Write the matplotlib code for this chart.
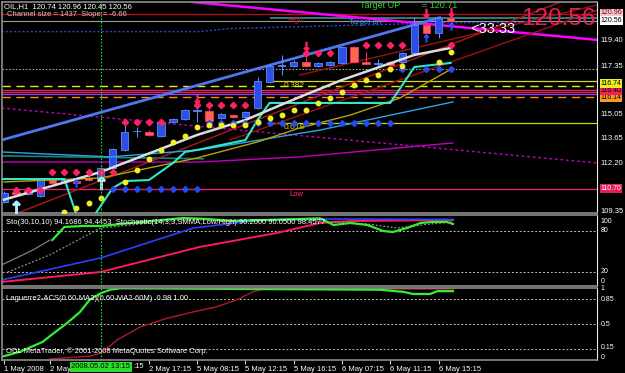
import matplotlib.pyplot as plt
import matplotlib.transforms as mtransforms

plt.rcParams['font.family'] = ['Liberation Sans', 'DejaVu Sans']

# OIL,H1 candles (bar 0 = 1 May 2008 ... bar 37 = 6 May 15:15)
opens = [109.91, 110.50, 110.38, 110.26, 111.20, 111.09, 111.14, 111.32, 111.26, 111.91,
         112.97, 114.08, 114.02, 113.79, 114.61, 114.79, 115.26, 115.26, 114.85, 115.02,
         114.90, 115.43, 116.96, 117.90, 117.90, 118.14, 117.90, 117.96, 118.08, 119.02,
         118.14, 118.02, 118.14, 118.14, 118.67, 120.31, 119.84, 120.74]
highs = [110.55, 110.60, 110.62, 111.30, 111.30, 111.25, 111.22, 111.75, 111.98, 113.10,
         114.73, 114.30, 114.12, 114.68, 114.85, 115.38, 115.79, 115.35, 115.15, 115.10,
         115.26, 117.26, 118.00, 118.55, 118.25, 118.84, 118.15, 118.20, 119.10, 119.08,
         118.72, 118.30, 118.20, 118.72, 120.78, 120.40, 120.80, 120.96]
lows = [109.85, 110.30, 110.32, 110.20, 111.00, 111.02, 110.98, 111.15, 111.20, 111.85,
        112.90, 113.75, 113.80, 113.72, 114.55, 114.72, 114.61, 114.60, 114.80, 114.85,
        114.85, 115.35, 116.90, 117.37, 117.85, 117.85, 117.85, 117.90, 118.00, 118.05,
        118.00, 117.90, 117.90, 118.08, 118.60, 119.78, 119.55, 120.45]
closes = [110.44, 110.38, 110.55, 111.20, 111.03, 111.20, 111.03, 111.20, 111.91, 113.03,
          114.02, 114.10, 113.85, 114.61, 114.79, 115.32, 115.28, 114.67, 115.08, 114.90,
          115.20, 117.02, 117.90, 117.92, 118.14, 117.90, 118.08, 118.14, 119.02, 118.14,
          118.02, 118.10, 117.96, 118.67, 120.31, 119.84, 120.72, 120.56]

# overlay lines on the price chart (bar, price)
white_x = [0, 8, 16, 20, 24.5, 28, 34, 37]
white_y = [110.05, 111.67, 113.85, 114.73, 116.08, 117.08, 118.55, 118.96]
cyan_x = [-0.2, 5, 6, 7.5, 9, 10, 12, 14, 15, 16, 20, 21, 22, 32, 34, 37]
cyan_y = [111.26, 111.26, 109.15, 109.15, 110.73, 111.14, 111.20, 112.20, 112.85, 112.97,
          113.55, 114.73, 115.73, 115.73, 117.84, 118.08]
olive_x = [0, 8, 12, 16, 21, 24.5, 28.7, 32.8, 37.2]
olive_y = [111.09, 111.32, 111.91, 112.50, 113.44, 114.26, 115.02, 116.02, 117.78]
sky_x = [-0.2, 8.8, 16.2, 26.2, 37.2]
sky_y = [112.85, 112.56, 112.97, 114.14, 115.79]
teal_x = [-0.2, 16.5]
teal_y = [112.62, 112.45]
mag_x = [-0.2, 16.2, 24.5, 37.2]
mag_y = [112.26, 112.26, 112.56, 113.38]
mag_dot_x = [-0.2, 49.2]
mag_dot_y = [115.43, 112.20]
mag_top_x = [15.6, 49.2]
mag_top_y = [121.66, 119.43]
chan_x = [-0.2, 36.1]
chan_y = [113.55, 120.74]
red1_x = [1.1, 46.1]
red1_y = [109.26, 121.66]
red2_x = [18.7, 49.2]
red2_y = [113.55, 121.19]
red3_x = [24.5, 49.2]
red3_y = [117.37, 121.49]
bluedot_x = [-0.2, 16.2, 18.7, 37.2, 43.5]
bluedot_y = [119.92, 119.92, 120.10, 120.45, 120.45]

# marker rows
pink_bars = [1, 2, 3, 4, 5, 6, 7, 8, 9, 10, 11, 12, 13, 16, 17, 18, 19, 20,
             25, 26, 27, 30, 31, 32, 33, 37]
pink_vals = [110.62, 110.62, 110.62, 111.67, 111.67, 111.67, 111.67, 111.67, 111.67,
             114.61, 114.61, 114.61, 114.61, 115.61, 115.61, 115.61, 115.61, 115.61,
             118.67, 118.67, 118.67, 119.14, 119.14, 119.14, 119.14, 119.14]
yellow_bars = [5, 6, 7, 8, 10, 11, 12, 13, 14, 15, 16, 17, 18, 19, 20, 21, 22, 23, 24,
               25, 26, 27, 28, 29, 30, 31, 32, 33, 36, 37]
yellow_vals = [109.32, 109.56, 109.85, 110.15, 111.09, 111.79, 112.44, 112.97, 113.44,
               113.79, 114.32, 114.44, 114.44, 114.44, 114.44, 114.61, 114.85, 115.02,
               115.32, 115.32, 115.73, 116.02, 116.37, 116.79, 117.08, 117.37, 117.73,
               117.90, 118.14, 118.72]
blue_bars = [9, 10, 11, 12, 13, 14, 15, 16, 17, 18, 19, 20, 21, 22, 23, 24, 25, 26, 27,
             28, 29, 30, 31, 32, 33, 35, 36, 37]
blue_vals = [110.68] * 8 + [114.55] * 16 + [117.73] * 4

# Sto(30,10,10) / Stochastic subwindow
sto_green_x = [4, 5, 6.5, 8, 14.8, 16.8, 19, 26.2, 27.3, 28.7, 30.1, 31.4, 32.2, 33.4,
               34.5, 35.5, 36.7, 37.2]
sto_green_y = [66.8, 85.9, 87.3, 87.3, 99.0, 97.6, 94.6, 98.5, 88.8, 91.7, 88.8, 80.0,
               78.5, 84.4, 91.7, 93.2, 93.2, 90.2]
sto_gray_x = [-0.2, 2.4, 3.8]
sto_gray_y = [30.3, 52.2, 66.8]
sto_dot_x = [0.3, 3.8, 8, 14.6, 24.5, 30.1, 32.6, 35.3, 37.2]
sto_dot_y = [20.0, 45.0, 84.4, 96.1, 96.1, 90.2, 84.4, 90.2, 93.2]
sto_blue_x = [-0.2, 8, 15.7, 21.2, 26.2, 37.2]
sto_blue_y = [8.3, 40.5, 84.4, 96.1, 97.6, 97.0]
sto_red_x = [-0.2, 8, 16.2, 22.6, 26.2, 28.7, 37.2]
sto_red_y = [5.4, 20.0, 56.6, 77.1, 91.7, 94.6, 96.0]

# Laguerre subwindow
lag_green_x = [-0.2, 1.3, 3.2, 4.1, 5.2, 6.3, 7.1, 8, 8.8, 9.6, 31.1, 33.1, 33.9, 35.3,
               35.9, 37.2]
lag_green_y = [0.04, 0.11, 0.25, 0.37, 0.51, 0.67, 0.84, 0.93, 0.98, 1.0, 0.98, 0.95,
               0.92, 0.92, 0.96, 0.96]
lag_red_x = [3.8, 7.1, 8, 9.4, 11.3, 13.5, 15.7, 17.6, 19.3, 20.6, 21.5, 37.2]
lag_red_y = [0.01, 0.05, 0.09, 0.28, 0.46, 0.58, 0.67, 0.74, 0.84, 0.95, 0.99, 0.99]

# axis labels
price_ticks = [119.40, 117.85, 115.05, 113.65, 112.20, 109.35]
price_labels = ['119.40', '117.35', '115.05', '113.65', '112.20', '109.35']
time_ticks = [0, 3.8, 12, 16, 20, 24, 28, 32, 36]
time_labels = ['1 May 2008', '2 May', '2 May 17:15', '5 May 08:15', '5 May 12:15',
               '5 May 16:15', '6 May 07:15', '6 May 11:15', '6 May 15:15']

W, H = 625, 373
fig = plt.figure(figsize=(W / 100, H / 100), dpi=100, facecolor='black')


def panel(top, bottom):
    a = fig.add_axes([2 / W, 1 - bottom / H, 595 / W, (bottom - top) / H])
    a.set_facecolor('black')
    a.set_xlim(-0.17, 49.13)
    for s in ('left', 'top', 'bottom'):
        a.spines[s].set_color('#8c8c8c')
        a.spines[s].set_linewidth(1.2)
    a.spines['right'].set_color('#e8e8e8')
    a.tick_params(left=False, right=False, bottom=False, labelleft=False, labelbottom=False)
    return a


def ftext(x, y, s, **kw):
    kw.setdefault('color', 'white')
    kw.setdefault('fontsize', 5.5)
    kw.setdefault('va', 'center')
    fig.text(x / W, 1 - y / H, s, **kw)


def rlabel(a, y, s, fc=None, tc='white', size=5.5, z=20):
    tr = mtransforms.blended_transform_factory(a.transAxes, a.transData)
    box = None
    if fc is not None:
        box = dict(boxstyle='square,pad=0.12', fc=fc, ec='none')
    a.text(1.006, y, s, transform=tr, color=tc, fontsize=size, va='center', ha='left',
           bbox=box, clip_on=False, zorder=z)


# ---------------- main price window ----------------
ax = panel(2, 213)
ax.set_ylim(109.265, 121.66)

# horizontal levels
ax.axhline(120.96, color='#b0101c', lw=1.0, zorder=2)
ax.hlines(120.71, 22, 49.2, color='#3a9090', lw=1.2, zorder=2)
ax.axhline(120.56, color='#9a9a9a', lw=0.8, zorder=2)
ax.plot(bluedot_x, bluedot_y, color='#2848d8', lw=1.0, ls=(0, (1.5, 1.5)), zorder=2)
ax.axhline(117.75, color='#a0a0a0', lw=0.8, ls=(0, (1.5, 1.5)), zorder=2)
ax.hlines(117.02, 22, 49.2, color='#d8d820', lw=0.9, zorder=2)
ax.axhline(116.74, color='#e8e800', lw=1.0, ls=(0, (6, 4)), zorder=2)
ax.axhline(116.48, color='#e0205a', lw=1.0, zorder=2)
ax.axhline(116.37, color='#e0205a', lw=1.0, zorder=2)
ax.axhline(116.26, color='#8844ff', lw=0.9, zorder=2)
ax.axhline(116.08, color='#ff8c00', lw=1.0, ls=(0, (6, 4)), zorder=2)
ax.hlines(114.55, 22, 49.2, color='#c8d800', lw=0.9, zorder=2)
ax.axhline(110.70, color='#e0206a', lw=1.0, zorder=2)

# trend / channel lines
ax.plot(mag_dot_x, mag_dot_y, color='#c000c0', lw=1.0, ls=(0, (2, 2)), zorder=2)
ax.plot(mag_x, mag_y, color='#c000c0', lw=1.0, zorder=2)
ax.plot(teal_x, teal_y, color='#1a8080', lw=1.2, zorder=2)
ax.plot(mag_top_x, mag_top_y, color='#ff00ff', lw=1.8, zorder=2)
ax.plot(red1_x, red1_y, color='#b01818', lw=1.0, zorder=2)
ax.plot(red2_x, red2_y, color='#a01010', lw=1.0, zorder=2)
ax.plot(red3_x, red3_y, color='#a01010', lw=1.0, zorder=2)
ax.plot(chan_x, chan_y, color='#4f78f0', lw=2.0, zorder=2)

# candles
for i in range(len(opens)):
    up = closes[i] >= opens[i]
    body = '#2e4ee8' if up else '#ff6450'
    edge = '#5a8cff' if up else '#ff2f6a'
    ax.vlines(i, lows[i], highs[i], color=edge, lw=0.8, zorder=3)
    lo, hi = min(opens[i], closes[i]), max(opens[i], closes[i])
    ax.bar(i, max(hi - lo, 0.03), bottom=lo, width=0.62, color=body, edgecolor=edge,
           lw=0.6, zorder=3)

# indicator lines
ax.plot(sky_x, sky_y, color='#28a8e0', lw=1.0, zorder=4)
ax.plot(olive_x, olive_y, color='#b0a800', lw=1.0, zorder=4)
ax.plot(cyan_x, cyan_y, color='#30e8c8', lw=1.5, zorder=4)
ax.plot(white_x, white_y, color='#dcdcdc', lw=1.8, zorder=4)

# dots
ax.plot(pink_bars, pink_vals, ls='none', marker='D', ms=3.2, color='#ff2060', zorder=6)
ax.plot(blue_bars, blue_vals, ls='none', marker='D', ms=3.0, color='#2848f0', zorder=6)
ax.plot(yellow_bars, yellow_vals, ls='none', marker='o', ms=3.2, color='#f0f020', zorder=6)

# arrows
ax.plot([16, 25, 35, 37], [115.95, 119.05, 121.0, 121.05], ls='none', marker=r'$\downarrow$',
        ms=6, color='#ff2060', zorder=7)
ax.plot([1, 8], [109.6, 111.0], ls='none', marker=r'$\uparrow$', ms=9, color='#b0f0f8', zorder=7)
ax.plot([6, 35, 37], [111.05, 119.55, 120.25], ls='none', marker=r'$\uparrow$', ms=5,
        color='#2050ff', zorder=7)

# text objects on the chart
ax.text(23.5, 120.80, 'High', color='#c01828', fontsize=5.5, va='top')
ax.text(28.6, 120.45, 'Target dn', color='#3090ff', fontsize=5.5, va='center')
ax.text(23.2, 116.95, '0.382', color='#e0e020', fontsize=6, va='top')
ax.text(23.2, 114.50, '0.618', color='#e0e020', fontsize=6, va='top')
ax.text(23.6, 110.55, 'Low', color='#ff3070', fontsize=5.5, va='top')
ftext(360, 6, 'Target UP', color='#30d030', fontsize=6.5)
ftext(422, 6, '= 120.71', color='#30d030', fontsize=6.5)
ftext(470, 29, '<33:33', color='white', fontsize=10.5)
ftext(521, 19, '120.56', color='#e8205a', fontsize=17.5)
ftext(4, 7, 'OIL,H1  120.74 120.96 120.45 120.56', fontsize=5.5)
ftext(7, 15, 'Channel size = 1437  Slope = -6.66', color='#c8c8c8', fontsize=5.5)

for p, s in zip(price_ticks, price_labels):
    rlabel(ax, p, s)
rlabel(ax, 121.02, '120.96', fc='#f0c8d0', tc='#900010', size=5)
rlabel(ax, 120.56, '120.56', fc='white', tc='black', size=5)
rlabel(ax, 116.05, '116.14', fc='#ff9a20', tc='black', size=5, z=18)
rlabel(ax, 116.88, '116.74', fc='#f0f020', tc='black', size=5)
rlabel(ax, 116.44, '116.40', fc='#f0205a', tc='black', size=5, z=19)
rlabel(ax, 110.70, '110.70', fc='#e8205a', tc='white', size=5)

# ---------------- stochastic window ----------------
sto = panel(215, 286)
sto.set_ylim(-0.5, 103.4)
for lv in (80, 20):
    sto.axhline(lv, color='#c0c0c0', lw=0.7, ls=(0, (2, 2)))
sto.plot(sto_gray_x, sto_gray_y, color='#808080', lw=0.9)
sto.plot(sto_red_x, sto_red_y, color='#ff1a5a', lw=1.4)
sto.plot(sto_blue_x, sto_blue_y, color='#2a40ff', lw=1.2)
sto.plot(sto_dot_x, sto_dot_y, color='#909090', lw=0.9, ls=(0, (1.5, 1.5)))
sto.plot(sto_green_x, sto_green_y, color='#30f030', lw=1.6)
for v, s in ((94, '100'), (80, '80'), (20, '20'), (6, '0')):
    rlabel(sto, v, s, size=5)
sto.text(0.007, 0.89, 'Sto(30,10,10) 94.1686 94.4453  Stochastic(14,3,3,SMMA,Low/High) '
         '90.2000 90.0500 98.4577', transform=sto.transAxes, color='white', fontsize=5.5,
         va='center')

# ---------------- Laguerre window ----------------
lag = panel(288, 360)
lag.set_ylim(-0.004, 1.004)
for lv in (0.85, 0.5, 0.15):
    lag.axhline(lv, color='#c0c0c0', lw=0.7, ls=(0, (2, 2)))
lag.plot(lag_red_x, lag_red_y, color='#b01830', lw=1.0)
lag.plot(lag_green_x, lag_green_y, color='#30f030', lw=1.6)
for v, s in ((0.99, '1'), (0.84, '0.85'), (0.5, '0.5'), (0.17, '0.15'), (0.03, '0')):
    rlabel(lag, v, s, size=5)
lag.text(0.007, 0.85, 'Laguerre2-ACS(0.60-MA2)(0.60-MA2-60M)  0.98 1.00',
         transform=lag.transAxes, color='white', fontsize=5.5, va='center')
lag.text(0.007, 0.12, 'ODL MetaTrader, \u00a9 2001-2008 MetaQuotes Software Corp.',
         transform=lag.transAxes, color='white', fontsize=5.5, va='center')

lag.set_xticks(time_ticks)
lag.set_xticklabels(time_labels, ha='left')
lag.tick_params(bottom=True, labelbottom=True, colors='#d0d0d0', labelcolor='white',
                length=3, width=0.8, labelsize=5.5, pad=1.5)
tr_time = mtransforms.blended_transform_factory(lag.transData, lag.transAxes)
lag.text(10.7, -0.095, ':15', transform=tr_time, color='white', fontsize=5.5, va='center')
lag.text(8, -0.095, '2008.05.02 13:15', transform=tr_time, color='black', fontsize=5.5,
         ha='center', va='center', bbox=dict(boxstyle='square,pad=0.2', fc='#28e028', ec='none'),
         clip_on=False, zorder=20)

# crosshair
for a in (ax, sto, lag):
    a.axvline(8, color='#20e020', lw=0.8, ls=(0, (1.5, 1.5)), zorder=8)

fig.savefig('out.png', dpi=100, facecolor='black')
